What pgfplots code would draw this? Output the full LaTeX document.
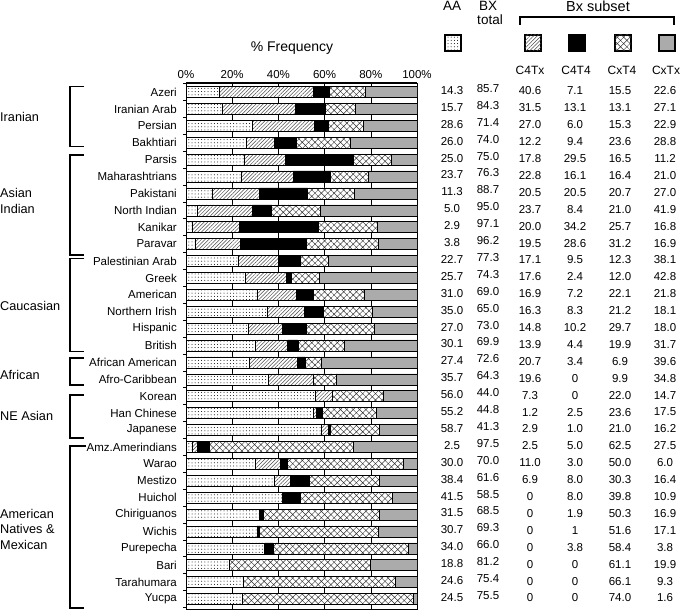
\documentclass[border=0pt]{standalone}
\usepackage{pgfplots}
\pgfplotsset{compat=1.18}
\usepackage{pgfplotstable}
\usetikzlibrary{patterns,patterns.meta}
\usepackage{fontspec}
\setmainfont{Liberation Sans}

\newcommand\rowfont{\fontsize{11.5bp}{13bp}\selectfont}
\newcommand\grpfont{\fontsize{12.7bp}{15.5bp}\selectfont}
\newcommand\hdrfont{\fontsize{13.5bp}{15bp}\selectfont}
\newcommand\colfont{\fontsize{12bp}{14bp}\selectfont}

\pgfplotstableread{
idx AA BX C4Tx C4T4 CxT4 CxTx
0 14.3 85.7 40.6 7.1 15.5 22.6
1 15.7 84.3 31.5 13.1 13.1 27.1
2 28.6 71.4 27.0 6.0 15.3 22.9
3 26.0 74.0 12.2 9.4 23.6 28.8
4 25.0 75.0 17.8 29.5 16.5 11.2
5 23.7 76.3 22.8 16.1 16.4 21.0
6 11.3 88.7 20.5 20.5 20.7 27.0
7 5.0 95.0 23.7 8.4 21.0 41.9
8 2.9 97.1 20.0 34.2 25.7 16.8
9 3.8 96.2 19.5 28.6 31.2 16.9
10 22.7 77.3 17.1 9.5 12.3 38.1
11 25.7 74.3 17.6 2.4 12.0 42.8
12 31.0 69.0 16.9 7.2 22.1 21.8
13 35.0 65.0 16.3 8.3 21.2 18.1
14 27.0 73.0 14.8 10.2 29.7 18.0
15 30.1 69.9 13.9 4.4 19.9 31.7
16 27.4 72.6 20.7 3.4 6.9 39.6
17 35.7 64.3 19.6 0 9.9 34.8
18 56.0 44.0 7.3 0 22.0 14.7
19 55.2 44.8 1.2 2.5 23.6 17.5
20 58.7 41.3 2.9 1.0 21.0 16.2
21 2.5 97.5 2.5 5.0 62.5 27.5
22 30.0 70.0 11.0 3.0 50.0 6.0
23 38.4 61.6 6.9 8.0 30.3 16.4
24 41.5 58.5 0 8.0 39.8 10.9
25 31.5 68.5 0 1.9 50.3 16.9
26 30.7 69.3 0 1 51.6 17.1
27 34.0 66.0 0 3.8 58.4 3.8
28 18.8 81.2 0 0 61.1 19.9
29 24.6 75.4 0 0 66.1 9.3
30 24.5 75.5 0 0 74.0 1.6
}\data

\tikzset{
  aastyle/.style={fill=white, postaction={pattern={Dots[distance=3.2bp,radius=0.5bp]}, pattern color=black}},
  c4txstyle/.style={fill=white, postaction={pattern={Lines[angle=45,distance=2.6bp,line width=0.5bp]}, pattern color=black!70}},
  c4t4style/.style={fill=black},
  cxt4style/.style={fill=white, postaction={pattern={Hatch[angle=45,distance=4.5bp,line width=0.45bp]}, pattern color=black!80}},
  cxtxstyle/.style={fill=black!33},
}

\begin{document}
\begin{tikzpicture}[x=1bp,y=1bp]
\useasboundingbox (0,0) rectangle (685,610);

\begin{axis}[
  at={(186bp,0.5bp)}, anchor=south west,
  scale only axis, width=231bp, height=526.5bp,
  xbar stacked, bar width=11bp, bar shift=0pt,
  xmin=0, xmax=100, ymin=-0.621, ymax=30.533,
  xtick={0,20,40,60,80,100},
  xticklabels={0\%,20\%,40\%,60\%,80\%,100\%},
  xtick pos=upper, xticklabel pos=upper,
  xticklabel style={font=\rowfont, inner sep=0pt, anchor=south, yshift=4bp},
  /pgf/number format/assume math mode=true,
  xmajorgrids, grid style={black, line width=0.5bp},
  ytick={0,...,30},
  yticklabels={Yucpa,Tarahumara,Bari,Purepecha,Wichis,Chiriguanos,Huichol,Mestizo,Warao,Amz.Amerindians,Japanese,Han Chinese,Korean,Afro-Caribbean,African American,British,Hispanic,Northern Irish,American,Greek,Palestinian Arab,Paravar,Kanikar,North Indian,Pakistani,Maharashtrians,Parsis,Bakhtiari,Persian,Iranian Arab,Azeri},
  yticklabel style={font=\rowfont, inner sep=0pt, anchor=east, xshift=-9bp},
  ytick pos=left, major tick length=0pt,
  minor ytick={-0.5,0.5,...,30.5},
  minor tick length=3bp,
  tick align=outside,
  tick style={black, line width=0.6bp},
  minor x tick num=0,
  axis line style={line width=0.8bp},
  every axis plot/.append style={draw=black, line width=0.5bp},
  after end axis/.code={
    \draw[line width=2bp] (axis description cs:0,1) -- (axis description cs:1,1);
    \draw[line width=1.6bp] (axis description cs:0,0) -- (axis description cs:1,0);
  },
]
\addplot[aastyle] table[x=AA, y expr=30-\thisrow{idx}] {\data};
\addplot[c4txstyle] table[x=C4Tx, y expr=30-\thisrow{idx}] {\data};
\addplot[c4t4style] table[x=C4T4, y expr=30-\thisrow{idx}] {\data};
\addplot[cxt4style] table[x=CxT4, y expr=30-\thisrow{idx}] {\data};
% the last segment fills each bar to 100 %, as in the reference
\addplot[cxtxstyle] table[x expr=100-\thisrow{AA}-\thisrow{C4Tx}-\thisrow{C4T4}-\thisrow{CxT4}, y expr=30-\thisrow{idx}] {\data};
\end{axis}

\begin{axis}[
  at={(0bp,0.5bp)}, anchor=south west,
  scale only axis, width=685bp, height=526.5bp,
  xmin=0, xmax=685, ymin=-0.621, ymax=30.533,
  hide axis, clip=false,
  every node near coord/.append style={font=\rowfont, anchor=center, inner sep=0pt},
]
\addplot[only marks, mark=none, nodes near coords, point meta=explicit symbolic,
  every node near coord/.append style={yshift=1.5bp}]
  table[x expr=452, y expr=30-\thisrow{idx}, meta=AA] {\data};
\addplot[only marks, mark=none, nodes near coords, point meta=explicit symbolic,
  every node near coord/.append style={yshift=3.5bp}]
  table[x expr=488, y expr=30-\thisrow{idx}, meta=BX] {\data};
\addplot[only marks, mark=none, nodes near coords, point meta=explicit symbolic,
  every node near coord/.append style={yshift=1bp}]
  table[x expr=530, y expr=30-\thisrow{idx}, meta=C4Tx] {\data};
\addplot[only marks, mark=none, nodes near coords, point meta=explicit symbolic,
  every node near coord/.append style={yshift=1bp}]
  table[x expr=575, y expr=30-\thisrow{idx}, meta=C4T4] {\data};
\addplot[only marks, mark=none, nodes near coords, point meta=explicit symbolic,
  every node near coord/.append style={yshift=1bp}]
  table[x expr=620, y expr=30-\thisrow{idx}, meta=CxT4] {\data};
\addplot[only marks, mark=none, nodes near coords, point meta=explicit symbolic,
  every node near coord/.append style={yshift=1bp}]
  table[x expr=665, y expr=30-\thisrow{idx}, meta=CxTx] {\data};
\end{axis}

% title
\node[font=\fontsize{14bp}{16bp}\selectfont] at (292,610-48) {\% Frequency};

% header
\node[font=\hdrfont] at (452,610-6) {AA};
\node[font=\hdrfont] at (488,610-6) {BX};
\node[font=\hdrfont] at (490,610-20) {total};
\node[font=\fontsize{14.5bp}{16bp}\selectfont] at (598,610-6) {Bx subset};
\draw[line width=1.2bp] (520,610-25) -- (520,610-17) -- (674,610-17) -- (674,610-25);

% legend swatches
\draw[line width=1.2bp, aastyle] (445,610-35) rectangle (461,610-51);
\draw[line width=1.2bp, c4txstyle] (525,610-35) rectangle (541,610-51);
\draw[line width=1.2bp, c4t4style] (569,610-35) rectangle (585,610-51);
\draw[line width=1.2bp, cxt4style] (615,610-35) rectangle (631,610-51);
\draw[line width=1.2bp, cxtxstyle] (659,610-35) rectangle (675,610-51);

\node[font=\colfont] at (530,610-70) {C4Tx};
\node[font=\colfont] at (576,610-70) {C4T4};
\node[font=\colfont] at (622,610-70) {CxT4};
\node[font=\colfont] at (666,610-70) {CxTx};

% group labels
\node[font=\grpfont, anchor=west, inner sep=0pt] at (0,610-117) {Iranian};
\node[font=\grpfont, anchor=west, inner sep=0pt, align=left] at (0,610-201) {Asian\\Indian};
\node[font=\grpfont, anchor=west, inner sep=0pt] at (0,610-306) {Caucasian};
\node[font=\grpfont, anchor=west, inner sep=0pt] at (0,610-375) {African};
\node[font=\grpfont, anchor=west, inner sep=0pt] at (0,610-416) {NE Asian};
\node[font=\grpfont, anchor=west, inner sep=0pt, align=left] at (0,610-529) {American\\Natives \&\\Mexican};

% brackets
\draw[line width=1.2bp] (84,610-86.7) -- (70,610-86.7) -- (70,610-146.7) -- (84,610-146.7);
\draw[line width=1.2bp] (84,610-155) -- (70,610-155) -- (70,610-255) -- (84,610-255);
\draw[line width=1.2bp] (84,610-258.5) -- (70,610-258.5) -- (70,610-351.7) -- (84,610-351.7);
\draw[line width=1.2bp] (84,610-358) -- (70,610-358) -- (70,610-385) -- (84,610-385);
\draw[line width=1.2bp] (84,610-395) -- (70,610-395) -- (70,610-438) -- (84,610-438);
\draw[line width=1.2bp] (86,610-446) -- (70,610-446) -- (70,610-608) -- (84,610-608);
\end{tikzpicture}
\end{document}
